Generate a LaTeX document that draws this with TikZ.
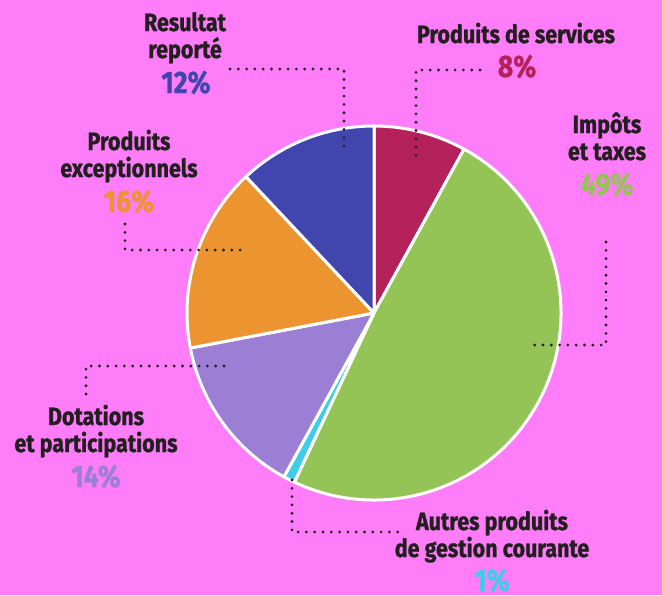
\documentclass[tikz,border=0pt]{standalone}
\usepackage{fontspec}
\setmainfont{Fira Sans}[FakeStretch=0.86, BoldFeatures={FakeBold=1}]
\definecolor{bg}{HTML}{FF7DF9}
\definecolor{txt}{HTML}{231F20}
\definecolor{cCrim}{HTML}{B5225B}
\definecolor{cGreen}{HTML}{93C455}
\definecolor{cCyan}{HTML}{3DCDE8}
\definecolor{cLav}{HTML}{9B7FD5}
\definecolor{cOrange}{HTML}{EC9430}
\definecolor{cBlue}{HTML}{4146AF}
\begin{document}
\begin{tikzpicture}[x=1pt,y=-1pt,
  lbl/.style={anchor=base, align=center, inner sep=0pt, text=txt,
    font=\bfseries\fontsize{25}{27}\selectfont},
  pct/.style={anchor=base, inner sep=0pt, font=\bfseries\fontsize{31}{31}\selectfont},
  slice/.style={draw=white, line width=3pt, line join=round},
  dotline/.style={draw=txt, line width=3.1pt, line cap=round, dash pattern=on 0pt off 8.3pt}]
\fill[bg] (0,0) rectangle (662,595);
\useasboundingbox (0,0) rectangle (662,595);
\coordinate (c) at (374,313);
\begin{scope}[shift={(374,313)}, y=1pt]
  \filldraw[slice, fill=cCrim] (0,0) -- (90:187) arc[start angle=90, end angle=61.2, radius=187] -- cycle;
  \filldraw[slice, fill=cGreen] (0,0) -- (61.2:187) arc[start angle=61.2, end angle=-115.2, radius=187] -- cycle;
  \filldraw[slice, fill=cCyan] (0,0) -- (-115.2:187) arc[start angle=-115.2, end angle=-118.8, radius=187] -- cycle;
  \filldraw[slice, fill=cLav] (0,0) -- (-118.8:187) arc[start angle=-118.8, end angle=-169.2, radius=187] -- cycle;
  \filldraw[slice, fill=cOrange] (0,0) -- (-169.2:187) arc[start angle=-169.2, end angle=-226.8, radius=187] -- cycle;
  \filldraw[slice, fill=cBlue] (0,0) -- (133.2:187) arc[start angle=133.2, end angle=90, radius=187] -- cycle;
\end{scope}
% labels (base = last line's baseline)
\node[lbl] (res) at (185,58) {Resultat\\reporté};
\node[pct, text=cBlue] (resp) at (186,93) {12\%};
\node[lbl] (serv) at (516,43) {Produits de services};
\node[pct, text=cCrim] (servp) at (517,77) {8\%};
\node[lbl] (imp) at (607,160) {Impôts\\et taxes};
\node[pct, text=cGreen] (impp) at (607,195) {49\%};
\node[lbl] (exc) at (129,177) {Produits\\exceptionnels};
\node[pct, text=cOrange] (excp) at (129,212) {16\%};
\node[lbl] (dot) at (96,452) {Dotations\\et participations};
\node[pct, text=cLav] (dotp) at (96,487) {14\%};
\node[lbl] (aut) at (492,557) {Autres produits\\de gestion courante};
\node[pct, text=cCyan] (autp) at (492,591) {1\%};
% leader lines
\coordinate (r1) at (230,69); \coordinate (r2) at (344,69); \coordinate (r3) at (344,152);
\draw[dotline] (r1) -- (r2) -- (r3);
\coordinate (s1) at (480,70); \coordinate (s2) at (416,70); \coordinate (s3) at (416,163);
\draw[dotline] (s1) -- (s2) -- (s3);
\coordinate (e1) at (125,224); \coordinate (e2) at (125,250); \coordinate (e3) at (243,250);
\draw[dotline] (e1) -- (e2) -- (e3);
\coordinate (i1) at (606,242); \coordinate (i2) at (606,345); \coordinate (i3) at (532,345);
\draw[dotline] (i1) -- (i2) -- (i3);
\coordinate (d1) at (86,394); \coordinate (d2) at (86,366); \coordinate (d3) at (224,366);
\draw[dotline] (d1) -- (d2) -- (d3);
\coordinate (a1) at (292,480); \coordinate (a2) at (292,532); \coordinate (a3) at (400,532);
\draw[dotline] (a1) -- (a2) -- (a3);
\end{tikzpicture}
\end{document}
